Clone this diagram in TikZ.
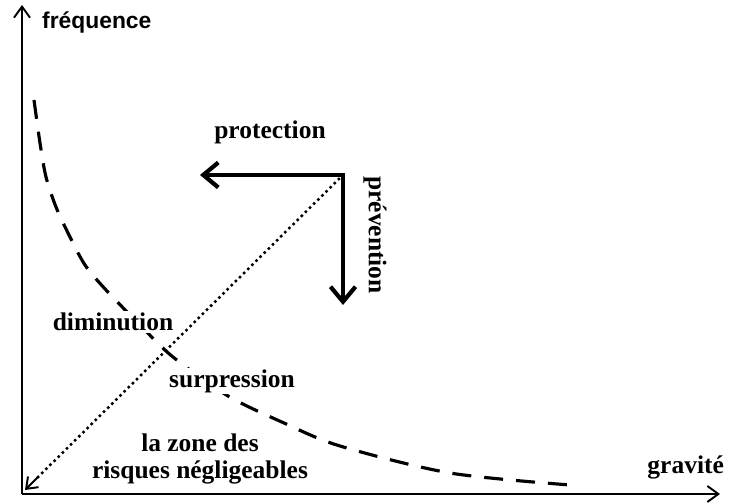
\documentclass[tikz,border=0pt]{standalone}
\usepackage{fontspec}
\newfontfamily\axisfont{Liberation Sans}
\newfontfamily\labelfont{Liberation Serif}
\usetikzlibrary{arrows.meta,calc}
\tikzset{
	axe/.style={line width=1.1pt, -{Straight Barb[length=2.2mm,width=3.2mm]}},
	fleche/.style={line width=2.4pt, -{Straight Barb[length=3mm,width=5mm,line width=2.4pt]}},
	pointilles/.style={line width=2pt, line cap=round, dash pattern=on 0pt off 3.3pt},
	etiquette/.style={font=\labelfont\bfseries\fontsize{14.5}{15}\selectfont, inner sep=1pt},
}
\begin{document}
\begin{tikzpicture}
		\useasboundingbox (0,0) rectangle (14.6,10.08);

		% Axes
		\coordinate (O) at (0.44, 0.2);
		\coordinate (haut) at (0.44, 9.98);
		\coordinate (droite) at (14.4, 0.2);
		\draw[axe] (O) -- (haut);
		\draw[axe] (O) -- (droite);
		\node[font=\axisfont\bfseries\fontsize{13}{14}\selectfont, anchor=west] (freq) at (0.72, 9.62) {fréquence};
		\node[etiquette, anchor=east] (grav) at (14.52, 0.74) {gravité};

		% Courbe (en tirets)
		\draw[line width=1.8pt, dash pattern=on 0.38cm off 0.26cm] plot[smooth, tension=0.5] coordinates {
			(0.68,8.08) (0.8,7.22) (0.92,6.54) (1.12,5.94) (1.38,5.38) (1.7,4.78) (2.12,4.28)
			(2.8,3.58) (3.46,2.94) (4.56,2.16) (5.68,1.62) (6.8,1.16) (9.0,0.62) (11.4,0.38)};

		% Diagonale (en pointillés) et flèches
		\coordinate (C) at (6.86, 6.58);
		\coordinate (bas) at (0.5, 0.28);
		\coordinate (gauche) at (4.0, 6.58);
		\coordinate (descente) at (6.86, 3.98);
		\draw[pointilles] (C) -- ($(bas)!0.35cm!(C)$);
		\draw[line width=1.1pt, -{Straight Barb[length=2mm,width=3mm]}] ($(bas)!0.36cm!(C)$) -- (bas);
		\draw[fleche] (C) -- (gauche);
		\draw[fleche] ([yshift=1.2pt]C) -- (descente);

		% Etiquettes
		\node[etiquette] (prot) at (5.4, 7.44) {protection};
		\node[etiquette, rotate=-90] (prev) at (7.5, 5.38) {prévention};
		\node[etiquette, fill=white] (dim) at (2.26, 3.64) {diminution};
		\node[etiquette, fill=white] (surp) at (4.64, 2.46) {surpression};
		\node[etiquette, align=center] (zone) at (4.0, 0.9) {la zone des\\risques négligeables};

	\end{tikzpicture}
\end{document}
